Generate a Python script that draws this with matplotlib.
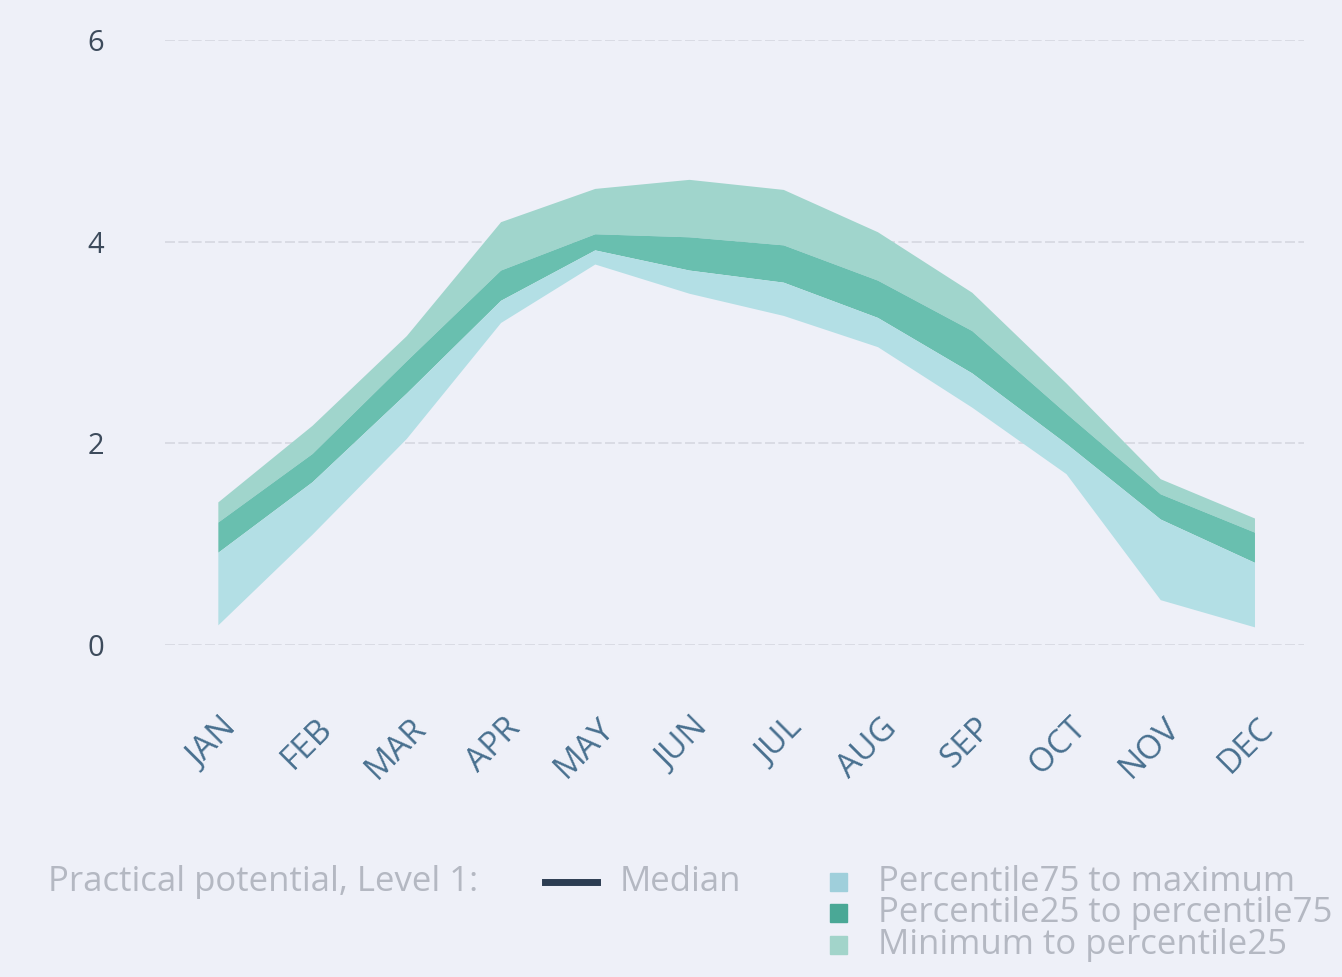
import matplotlib
matplotlib.use("Agg")
import matplotlib.pyplot as plt
import matplotlib.transforms as mtransforms
import numpy as np

# Monthly practical potential, level 1
months = ["JAN", "FEB", "MAR", "APR", "MAY", "JUN", "JUL", "AUG", "SEP", "OCT", "NOV", "DEC"]
minimum = [0.20, 1.10, 2.05, 3.20, 3.78, 3.49, 3.27, 2.96, 2.36, 1.70, 0.45, 0.18]
p25 = [0.92, 1.62, 2.50, 3.42, 3.92, 3.72, 3.60, 3.25, 2.70, 2.00, 1.25, 0.82]
p75 = [1.22, 1.90, 2.82, 3.72, 4.08, 4.05, 3.97, 3.62, 3.12, 2.30, 1.50, 1.12]
maximum = [1.42, 2.18, 3.07, 4.20, 4.53, 4.62, 4.52, 4.10, 3.50, 2.60, 1.65, 1.26]
yticks = [0, 2, 4, 6]

legend_title = "Practical potential, Level 1:"
band_labels = ["Percentile75 to maximum", "Percentile25 to percentile75", "Minimum to percentile25"]

bg = "#eef0f8"
plt.rcParams["font.family"] = ["Open Sans", "DejaVu Sans"]

fig = plt.figure(figsize=(13.42, 9.77), dpi=100, facecolor=bg)
ax = fig.add_axes([0.123, 0.3398, 0.849, 0.619], facecolor=bg)

x = np.arange(len(months))
ax.fill_between(x, p75, maximum, color="#a0d5cc", lw=0)
ax.fill_between(x, p25, p75, color="#69bfaf", lw=0)
ax.fill_between(x, minimum, p25, color="#b3dfe5", lw=0)

ax.set_xlim(-0.56, 11.53)
ax.set_ylim(0, 6)
ax.set_yticks(yticks)
ax.set_yticklabels([str(v) for v in yticks], fontsize=21, color="#3d4b5c")
ax.grid(axis="y", color="#d5d7e1", lw=1.2, ls=(0, (6, 2)))
ax.set_axisbelow(True)
for s in ax.spines.values():
    s.set_visible(False)
ax.tick_params(axis="y", length=0, pad=44)
ax.tick_params(axis="x", length=0, pad=48)

ax.set_xticks(x)
ax.set_xticklabels(months, rotation=45, ha="right", rotation_mode="anchor",
                   fontsize=24, color="#48708f")
offset = mtransforms.ScaledTranslation(3 / 100, 0, fig.dpi_scale_trans)
for lbl in ax.get_xticklabels():
    lbl.set_transform(lbl.get_transform() + offset)

# legend row along the bottom
W, H = 1342, 977
txt_color = "#b4b8c2"
fs = 25
fig.text(48 / W, 1 - 882 / H, legend_title, fontsize=fs, color=txt_color, va="center")
fig.add_artist(plt.Line2D([545 / W, 597 / W], [1 - 882 / H] * 2, color="#2c3d52", lw=5))
fig.text(620 / W, 1 - 882 / H, "Median", fontsize=fs, color=txt_color, va="center")

swatches = ["#9fcfdb", "#4aa896", "#a2d4ca"]
rows = [882, 913, 945]
for lab, col, yy in zip(band_labels, swatches, rows):
    fig.add_artist(plt.Rectangle((830 / W, 1 - (yy + 9) / H), 17 / W, 18 / H,
                                 color=col, transform=fig.transFigure))
    fig.text(878 / W, 1 - yy / H, lab, fontsize=fs, color=txt_color, va="center")

fig.savefig("out.png", dpi=100, facecolor=bg)
